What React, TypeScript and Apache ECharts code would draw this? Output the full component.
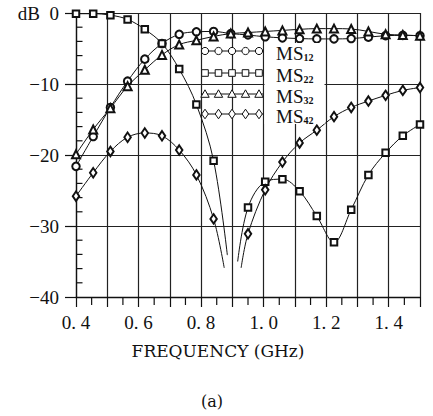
import React, { useEffect, useRef } from 'react';
import * as echarts from 'echarts';

// sample frequencies (GHz) at which the markers are plotted
const freqs = [0.4, 0.455, 0.51, 0.565, 0.62, 0.675, 0.73, 0.785, 0.84, 0.895, 0.95, 1.005, 1.06, 1.115, 1.17, 1.225, 1.28, 1.335, 1.39, 1.445, 1.5];

// series values in dB (null = inside the deep null, no marker)
const ms12 = [-21.6, -17.4, -13.3, -9.6, -6.5, -4.3, -3.0, -2.65, -2.6, -2.9, -3.1, -3.35, -3.5, -3.6, -3.65, -3.65, -3.6, -3.4, -3.2, -3.15, -3.2];
const ms22 = [-0.1, -0.1, -0.3, -0.9, -2.3, -4.3, -7.9, -12.9, -20.8, null, -27.4, -23.75, -23.4, -25.1, -28.6, -32.3, -27.7, -22.8, -19.7, -17.3, -15.7];
const ms32 = [-19.9, -16.4, -13.4, -10.3, -8.0, -5.9, -4.45, -3.85, -3.3, -2.9, -2.75, -2.6, -2.45, -2.3, -2.2, -2.2, -2.25, -2.6, -3.0, -3.1, -3.2];
const ms42 = [-25.8, -22.5, -19.5, -17.5, -16.9, -17.3, -19.3, -22.8, -29.0, null, -31.1, -24.9, -21.0, -18.3, -16.5, -14.6, -13.3, -12.4, -11.6, -10.9, -10.5];

// ends of the curves where they plunge into the null (left end, right start)
const ms22Dip = [[0.884, -34.1], [0.917, -35.0]];
const ms42Dip = [[0.874, -35.9], [0.928, -35.9]];

const seriesNames = ['MS12', 'MS22', 'MS32', 'MS42'];
const seriesSubs = ['12', '22', '32', '42'];

const xLabelValues = [0.4, 0.6, 0.8, 1.0, 1.2, 1.4];
const xLabelTexts = ['0. 4', '0. 6', '0. 8', '1. 0', '1. 2', '1. 4'];
const yLabelValues = [0, -10, -20, -30, -40];
const yLabelTexts = ['dB\u00a0\u00a00', '\u221210', '\u221220', '\u221230', '\u221240'];

// minor tick positions
const xMinorTicks = [0.45, 0.55, 0.65, 0.75, 0.85, 0.95, 1.05, 1.15, 1.25, 1.35, 1.45];
const yMinorTicks = [-38, -36, -34, -32, -28, -26, -24, -22, -18, -16, -14, -12, -8, -6, -4, -2];

const xTitle = 'FREQUENCY (GHz)';
const caption = '(a)';

const SERIF = "'Liberation Serif', 'Times New Roman', serif";
const WIDE_SERIF = "'DejaVu Serif', serif";
const INK = '#111';

function buildData(values: (number | null)[], dip: number[][]) {
  const out: any[] = [];
  values.forEach((v, i) => {
    if (v === null) {
      out.push({ value: dip[0], symbol: 'none' });
      out.push({ value: [freqs[i], '-'] });
      out.push({ value: dip[1], symbol: 'none' });
    } else {
      out.push({ value: [freqs[i], v] });
    }
  });
  return out;
}

const symbols = ['emptyCircle', 'emptyRect', 'emptyTriangle', 'emptyDiamond'];
const symbolSizes: any[] = [7.5, 6.5, 8, [6.5, 9.5]];

function legendMarker(kind: number, cx: number, cy: number) {
  const style = { fill: '#fff', stroke: INK, lineWidth: 1 };
  if (kind === 0) return { type: 'circle', shape: { cx, cy, r: 3.6 }, style };
  if (kind === 1) return { type: 'rect', shape: { x: cx - 3.3, y: cy - 3.3, width: 6.6, height: 6.6 }, style };
  if (kind === 2)
    return { type: 'polygon', shape: { points: [[cx, cy - 4.2], [cx - 4.2, cy + 3.3], [cx + 4.2, cy + 3.3]] }, style };
  return { type: 'polygon', shape: { points: [[cx, cy - 4.8], [cx + 3.3, cy], [cx, cy + 4.8], [cx - 3.3, cy]] }, style };
}

export default function App() {
  const ref = useRef<HTMLDivElement>(null);

  useEffect(() => {
    if (!ref.current) return;
    const chart = echarts.init(ref.current, undefined, { renderer: 'svg' });

    const allValues = [ms12, ms22, ms32, ms42];
    const series: any[] = allValues.map((vals, i) => ({
      name: seriesNames[i],
      type: 'line',
      data: buildData(vals, i === 1 ? ms22Dip : ms42Dip),
      smooth: 0.35,
      connectNulls: false,
      symbol: symbols[i],
      symbolSize: symbolSizes[i],
      showAllSymbol: true,
      lineStyle: { color: INK, width: 1 },
      itemStyle: { color: INK, borderColor: INK, borderWidth: 1 },
      z: 3,
    }));

    // minor ticks along the bottom axis (outward) and left axis (inward)
    series.push({
      type: 'custom',
      coordinateSystem: 'cartesian2d',
      silent: true,
      clip: false,
      z: 2,
      data: xMinorTicks.map((v) => [v, -40]),
      renderItem: (_p: any, api: any) => {
        const pt = api.coord([api.value(0), api.value(1)]);
        return {
          type: 'line',
          shape: { x1: pt[0], y1: pt[1], x2: pt[0], y2: pt[1] + 8 },
          style: { stroke: INK, lineWidth: 1.2 },
        };
      },
    });
    series.push({
      type: 'custom',
      coordinateSystem: 'cartesian2d',
      silent: true,
      clip: false,
      z: 2,
      data: yMinorTicks.map((v) => [0.4, v]),
      renderItem: (_p: any, api: any) => {
        const pt = api.coord([api.value(0), api.value(1)]);
        return {
          type: 'line',
          shape: { x1: pt[0], y1: pt[1], x2: pt[0] + 6.5, y2: pt[1] },
          style: { stroke: INK, lineWidth: 1.2 },
        };
      },
    });

    const rowsY = [51, 73, 94, 114];
    const markerXs = [205, 218.5, 232, 245.5, 259];
    const legendEls: any[] = [
      { type: 'rect', shape: { x: 264.5, y: 43, width: 60, height: 81 }, style: { fill: '#fff' }, z: 10 },
    ];
    rowsY.forEach((y, i) => {
      legendEls.push({ type: 'line', shape: { x1: 201, y1: y, x2: 263, y2: y }, style: { stroke: INK, lineWidth: 1 }, z: 11 });
      markerXs.forEach((mx) => legendEls.push({ ...legendMarker(i, mx, y), z: 12 }));
      legendEls.push({
        type: 'text',
        x: 276,
        y: y + 2,
        z: 12,
        style: {
          text: '{m|MS}{s|' + seriesSubs[i] + '}',
          verticalAlign: 'middle',
          rich: {
            m: { fontSize: 19, fontFamily: SERIF, fill: INK },
            s: { fontSize: 10, fontWeight: 'bold', fontFamily: SERIF, fill: INK, verticalAlign: 'bottom' },
          },
        },
      });
    });
    legendEls.push({
      type: 'text',
      x: 212,
      y: 401,
      style: { text: caption, font: '16px ' + WIDE_SERIF, fill: INK, align: 'center', verticalAlign: 'middle' },
    });

    const tickLine = { color: INK, width: 1.2 };

    chart.setOption({
      animation: false,
      backgroundColor: '#fff',
      grid: { left: 76, right: 13, top: 13, bottom: 119, containLabel: false },
      xAxis: {
        type: 'value',
        min: 0.4,
        max: 1.5,
        interval: 0.1,
        name: xTitle,
        nameLocation: 'middle',
        nameGap: 45,
        nameTextStyle: { fontFamily: WIDE_SERIF, fontSize: 17, color: INK, padding: [0, 60, 0, 0] },
        axisLine: { show: true, onZero: false, lineStyle: { color: INK, width: 1.3 } },
        axisTick: { show: true, inside: false, length: 10, lineStyle: tickLine },
        splitLine: { show: true, lineStyle: { color: '#222', width: 1.2 } },
        axisLabel: {
          margin: 16,
          fontFamily: SERIF,
          fontSize: 19,
          color: INK,
          formatter: (v: number) => {
            const idx = xLabelValues.findIndex((x) => Math.abs(x - v) < 1e-6);
            return idx >= 0 ? xLabelTexts[idx] : '';
          },
        },
      },
      yAxis: {
        type: 'value',
        min: -40,
        max: 0,
        interval: 10,
        axisLine: { show: true, onZero: false, lineStyle: { color: INK, width: 1.3 } },
        axisTick: { show: true, inside: false, length: 11, lineStyle: tickLine },
        splitLine: { show: true, lineStyle: { color: '#222', width: 1.2 } },
        axisLabel: {
          margin: 17,
          fontFamily: SERIF,
          fontSize: 19,
          color: INK,
          formatter: (v: number) => {
            const idx = yLabelValues.findIndex((y) => Math.abs(y - v) < 1e-6);
            return idx >= 0 ? yLabelTexts[idx] : '';
          },
        },
      },
      series,
      graphic: legendEls,
    });

    return () => chart.dispose();
  }, []);

  return <div ref={ref} style={{ position: 'absolute', left: 0, top: 0, width: 433, height: 416 }} />;
}
